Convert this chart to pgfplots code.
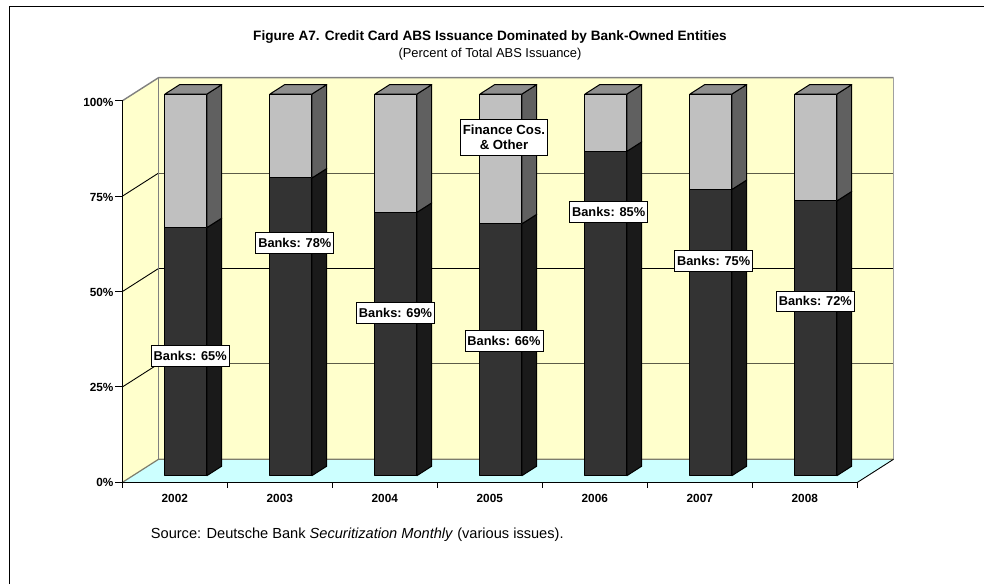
\documentclass[border=0pt]{standalone}
\usepackage{fontspec}
\setmainfont{Liberation Sans}
\usepackage{pgfplots}
\pgfplotsset{compat=1.18}

\definecolor{wallfill}{HTML}{FFFFCC}
\definecolor{floorfill}{HTML}{CCFFFF}
\definecolor{walledge}{HTML}{808080}
\definecolor{gridback}{HTML}{5C5C48}
\definecolor{bankfront}{HTML}{333333}
\definecolor{bankside}{HTML}{1A1A1A}
\definecolor{otherfront}{HTML}{C0C0C0}
\definecolor{otherside}{HTML}{606060}
\definecolor{othertop}{HTML}{8E8E8E}

% One stacked column: #1 = category position, #2 = share held by banks (percent)
\newcommand{\stackedcolumn}[2]{%
  \pgfmathsetmacro\xa{#1+0.305}%
  \pgfmathsetmacro\xb{#1+0.705}%
  \addplot3[columnface,fill=bankside] coordinates {(\xb,0.29,0) (\xb,0.70,0) (\xb,0.70,#2) (\xb,0.29,#2)} --cycle;
  \addplot3[columnface,fill=otherside] coordinates {(\xb,0.29,#2) (\xb,0.70,#2) (\xb,0.70,100) (\xb,0.29,100)} --cycle;
  \addplot3[columnface,fill=othertop] coordinates {(\xa,0.29,100) (\xb,0.29,100) (\xb,0.70,100) (\xa,0.70,100)} --cycle;
  \addplot3[columnface,fill=bankfront] coordinates {(\xa,0.29,0) (\xb,0.29,0) (\xb,0.29,#2) (\xa,0.29,#2)} --cycle;
  \addplot3[columnface,fill=otherfront] coordinates {(\xa,0.29,#2) (\xb,0.29,#2) (\xb,0.29,100) (\xa,0.29,100)} --cycle;
}

\begin{document}
\begin{tikzpicture}[x=1pt,y=1pt,
  flag/.style={draw=black,fill=white,line width=0.9pt,inner sep=0pt,align=center,
    font=\fontsize{12.8}{15}\selectfont\bfseries}]
\useasboundingbox (0,0) rectangle (984,584);
\draw[line width=1.3pt] (9.5,0) -- (9.5,577.5) -- (984,577.5);

\begin{axis}[
  at={(122.5pt,101.7pt)}, anchor=origin,
  x={(105pt,0pt)}, y={(36pt,23pt)}, z={(0pt,3.816pt)},
  xmin=0, xmax=7, ymin=0, ymax=1, zmin=0, zmax=100,
  clip=false,
  axis x line*=bottom, axis z line*=left, axis y line=none,
  xtick={0.5,1.5,2.5,3.5,4.5,5.5,6.5},
  xticklabels={2002,2003,2004,2005,2006,2007,2008},
  ytick=\empty,
  ztick={0,25,50,75,100},
  zticklabels={0\%,25\%,50\%,75\%,100\%},
  major tick length=0pt,
  axis line style={black,line width=1pt},
  tick label style={font=\fontsize{11.8}{14}\selectfont\bfseries},
  x tick label style={xshift=4pt,yshift=-8pt},
  z tick label style={xshift=-5.5pt,yshift=3.6pt},
  columnface/.style={draw=black,line width=1pt,line join=round},
  tickmark/.style={draw=black,line width=0.9pt},
  axis on top=false,
]
% walls and floor
\addplot3[fill=wallfill,draw=none] coordinates {(0,0,0) (0,1,0) (0,1,100) (0,0,100)} --cycle;
\addplot3[fill=wallfill,draw=none] coordinates {(0,1,0) (7,1,0) (7,1,100) (0,1,100)} --cycle;
\addplot3[fill=floorfill,draw=none] coordinates {(0,0,0) (7,0,0) (7,1,0) (0,1,0)} --cycle;
% gridlines running along the left wall and the back wall
\addplot3[draw=black,line width=0.9pt] coordinates {(0,0,25) (0,1,25)};
\addplot3[draw=gridback,line width=0.9pt] coordinates {(0,1,25) (7,1,25)};
\addplot3[draw=black,line width=0.9pt] coordinates {(0,0,50) (0,1,50) (7,1,50)};
\addplot3[draw=black,line width=0.9pt] coordinates {(0,0,75) (0,1,75)};
\addplot3[draw=gridback,line width=0.9pt] coordinates {(0,1,75) (7,1,75)};
% outline of the walls and floor
\addplot3[draw=walledge,line width=1.4pt] coordinates {(0,0,100) (0,1,100) (7,1,100)};
\addplot3[draw=walledge!75,line width=1.4pt] coordinates {(7,1,100) (7,1,0)};
\addplot3[draw=walledge,line width=1.4pt] coordinates {(0,1,0) (0,1,100)};
\addplot3[draw=gridback!80,line width=1.2pt] coordinates {(0,0,0) (0,1,0) (7,1,0)};
\addplot3[draw=black,line width=0.9pt] coordinates {(7,1,0) (7,0,0)};
\addplot3[draw=black,line width=1pt] coordinates {(0,0,100) (0,0,0) (7,0,0)};
% tick marks: left of the value edge, below the category edge
\addplot3[tickmark] coordinates {(0,0,0) (-0.07,0,0)};
\addplot3[tickmark] coordinates {(0,0,25) (-0.07,0,25)};
\addplot3[tickmark] coordinates {(0,0,50) (-0.07,0,50)};
\addplot3[tickmark] coordinates {(0,0,75) (-0.07,0,75)};
\addplot3[tickmark] coordinates {(0,0,100) (-0.07,0,100)};
\addplot3[tickmark] coordinates {(0,0,0) (0,0,-1.6)};
\addplot3[tickmark] coordinates {(1,0,0) (1,0,-1.6)};
\addplot3[tickmark] coordinates {(2,0,0) (2,0,-1.6)};
\addplot3[tickmark] coordinates {(3,0,0) (3,0,-1.6)};
\addplot3[tickmark] coordinates {(4,0,0) (4,0,-1.6)};
\addplot3[tickmark] coordinates {(5,0,0) (5,0,-1.6)};
\addplot3[tickmark] coordinates {(6,0,0) (6,0,-1.6)};
\addplot3[tickmark] coordinates {(7,0,0) (7,0,-1.6)};
% columns: share of issuance held by bank-owned entities
\stackedcolumn{0}{65}
\stackedcolumn{1}{78}
\stackedcolumn{2}{69}
\stackedcolumn{3}{66}
\stackedcolumn{4}{85}
\stackedcolumn{5}{75}
\stackedcolumn{6}{72}
% callouts
\node[flag,minimum width=78pt,minimum height=20.7pt] at (axis cs:0.645,0,33.02) {Banks: 65\%};
\node[flag,minimum width=78pt,minimum height=20.7pt] at (axis cs:1.641,0,62.71) {Banks: 78\%};
\node[flag,minimum width=78pt,minimum height=20.7pt] at (axis cs:2.600,0,44.44) {Banks: 69\%};
\node[flag,minimum width=78pt,minimum height=20.7pt] at (axis cs:3.633,0,37.03) {Banks: 66\%};
\node[flag,minimum width=78pt,minimum height=20.7pt] at (axis cs:4.630,0,70.78) {Banks: 85\%};
\node[flag,minimum width=78pt,minimum height=20.7pt] at (axis cs:5.630,0,58.07) {Banks: 75\%};
\node[flag,minimum width=78pt,minimum height=20.7pt] at (axis cs:6.598,0,47.43) {Banks: 72\%};
\node[flag,minimum width=86.6pt,minimum height=35.7pt,font=\fontsize{13.2}{14.8}\selectfont\bfseries] at (axis cs:3.633,0,90.43) {Finance Cos.\\\&~Other};
\end{axis}

\node[anchor=center,font=\fontsize{13.6}{16}\selectfont\bfseries] at (490,546.8) {Figure A7. Credit Card ABS Issuance Dominated by Bank-Owned Entities};
\node[anchor=center,font=\fontsize{12.9}{15}\selectfont] at (490,530) {(Percent of Total ABS Issuance)};
\node[anchor=west,inner sep=0pt,font=\fontsize{14.6}{16}\selectfont] at (150.7,49.5) {Source: Deutsche Bank \textit{Securitization Monthly} (various issues).};
\end{tikzpicture}
\end{document}
